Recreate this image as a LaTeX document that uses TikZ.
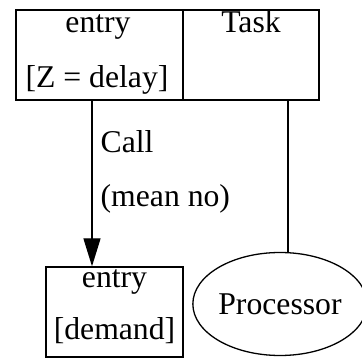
\documentclass[tikz,border=0pt]{standalone}
\usepackage{fontspec}
\setmainfont{Liberation Serif}
\usetikzlibrary{arrows.meta,shapes.geometric}
\begin{document}
\begin{tikzpicture}[x=1pt,y=-1pt,line width=1.3pt,
  every node/.style={font=\fontsize{31.7}{37}\selectfont},
  cell/.style={draw,rectangle,inner sep=0pt},
  lbl/.style={inner sep=0pt,anchor=base},
  proc/.style={draw,ellipse,inner sep=0pt,minimum width=163pt,minimum height=103pt}]
\useasboundingbox (0,0) rectangle (362,358);

% task with its entry
\node[cell,minimum width=167pt,minimum height=90pt] (entry) at (99.5,55) {};
\node[cell,minimum width=136pt,minimum height=90pt] (task) at (251,55) {};
\node[lbl] (entryname) at (98,33) {entry};
\node[lbl] (entryz) at (97,88) {[Z = delay]};
\node[lbl] (taskname) at (251,33) {Task};

% called entry and processor
\node[cell,minimum width=137pt,minimum height=90pt] (dem) at (114.5,312) {};
\node[lbl] (demname) at (114.5,288) {entry};
\node[lbl] (demval) at (114.5,340) {[demand]};
\node[proc] (proc) at (280,304) {Processor};

% connectors
\coordinate (callx) at (92,0);
\coordinate (hostx) at (288,0);
\draw[-{Triangle[length=28pt,width=17pt]}] (entry.south -| callx) -- (dem.north -| callx);
\draw (task.south -| hostx) -- (proc.north -| hostx);

\node[lbl,anchor=base west] (call) at (100,153) {Call};
\node[lbl,anchor=base west] (mean) at (100,207) {(mean no)};
\end{tikzpicture}
\end{document}
